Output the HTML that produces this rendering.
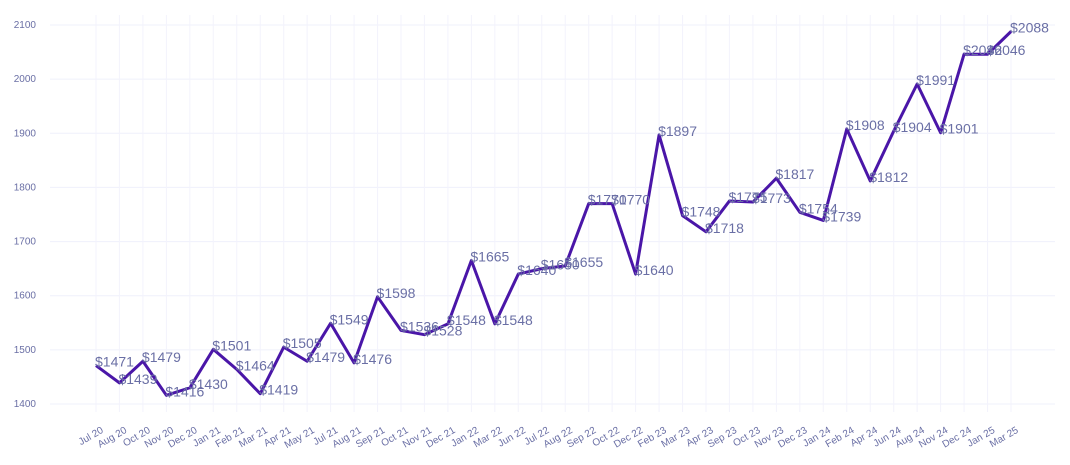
<!DOCTYPE html>
<html><head><meta charset="utf-8"><style>
body{margin:0;background:#fff;}
svg{display:block;font-family:"Liberation Sans",sans-serif;}
</style></head><body>
<svg id="chart" width="1070" height="465" xmlns="http://www.w3.org/2000/svg">
<g id="grid"></g>
<g id="yaxis"></g>
<g id="xaxis"></g>
<g id="series"></g>
</svg>
<script>
const categories=["Jul 20","Aug 20","Oct 20","Nov 20","Dec 20","Jan 21","Feb 21","Mar 21","Apr 21","May 21","Jul 21","Aug 21","Sep 21","Oct 21","Nov 21","Dec 21","Jan 22","Mar 22","Jun 22","Jul 22","Aug 22","Sep 22","Oct 22","Dec 22","Feb 23","Mar 23","Apr 23","Sep 23","Oct 23","Nov 23","Dec 23","Jan 24","Feb 24","Apr 24","Jun 24","Aug 24","Nov 24","Dec 24","Jan 25","Mar 25"];
const values=[1471,1439,1479,1416,1430,1501,1464,1419,1505,1479,1549,1476,1598,1536,1528,1548,1665,1548,1640,1650,1655,1770,1770,1640,1897,1748,1718,1775,1773,1817,1754,1739,1908,1812,1904,1991,1901,2046,2046,2088];
const yTicks=[1400,1500,1600,1700,1800,1900,2000,2100];
const NS="http://www.w3.org/2000/svg";
const x0=96,x1=1011,yBase=404,yTop=25;
function xs(i){return x0+(x1-x0)*i/(categories.length-1);}
function ys(v){return yBase-(v-1400)/(2100-1400)*(yBase-yTop);}
function mk(tag,attrs,parent){const e=document.createElementNS(NS,tag);for(const k in attrs)e.setAttribute(k,attrs[k]);parent.appendChild(e);return e;}
const grid=document.getElementById('grid'),ya=document.getElementById('yaxis'),xa=document.getElementById('xaxis'),se=document.getElementById('series');
yTicks.forEach(t=>{
 const l=mk('line',{x1:50,x2:1055,y1:ys(t),y2:ys(t),stroke:'#eff0fb','stroke-width':1},grid);
 
 
 const tx=mk('text',{x:36,y:ys(t)+3,'text-anchor':'end','font-size':10,fill:'#6a6fa5'},ya);
 tx.textContent=t;
 
 
});
categories.forEach((c,i)=>{
 const l=mk('line',{x1:xs(i),x2:xs(i),y1:15,y2:412,stroke:'#f3f3fc','stroke-width':1},grid);
 
 
 const tx=mk('text',{x:xs(i)+8,y:432,'text-anchor':'end','font-size':10,fill:'#6a6fa5',transform:`rotate(-30 ${xs(i)+8} 432)`},xa);
 tx.textContent=c;
 
 
});
const pts=values.map((v,i)=>xs(i)+','+ys(v)).join(' ');
const pl=mk('polyline',{points:pts,fill:'none',stroke:'#4a16a8','stroke-width':3,'stroke-linejoin':'round'},se);


values.forEach((v,i)=>{
 const tx=mk('text',{x:xs(i)-1,y:ys(v)+1,'font-size':14,fill:'#6a6fa5'},se);
 tx.textContent='$'+v;
 
 
});
</script>
</body></html>
